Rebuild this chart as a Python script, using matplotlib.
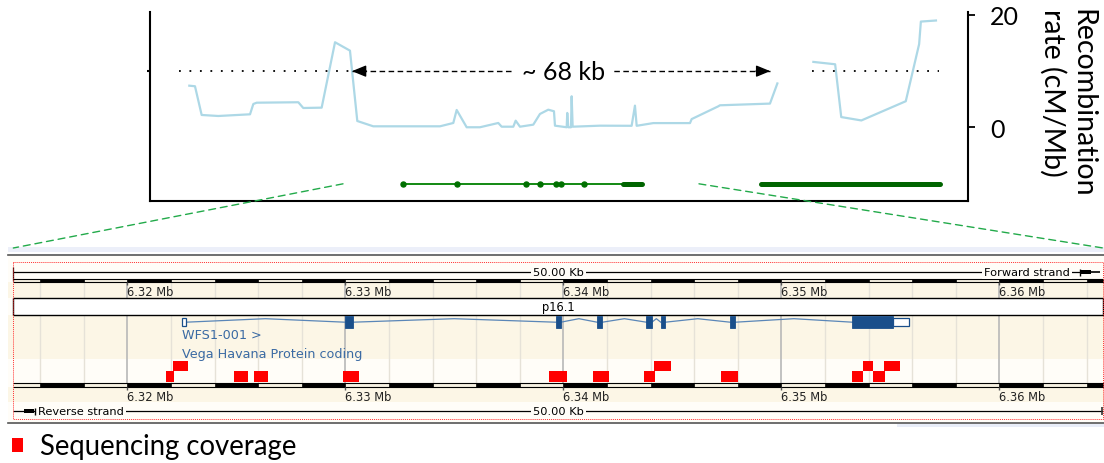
import matplotlib
matplotlib.use("Agg")
import matplotlib.pyplot as plt
from matplotlib.patches import Rectangle, Patch, ConnectionPatch
import numpy as np

# ---------------- data ----------------
# Recombination rate (cM/Mb) along chr4 (position in Mb); two segments with a gap
recomb_pos_a = [6.29290, 6.29369, 6.29462, 6.29694, 6.30135, 6.30181, 6.30228, 6.30807,
                6.30876, 6.31132, 6.31318, 6.31526, 6.31628, 6.31850, 6.32779, 6.32964,
                6.33011, 6.33150, 6.33335, 6.33590, 6.33637, 6.33799, 6.33832, 6.33892,
                6.34077, 6.34170, 6.34286, 6.34365, 6.34379, 6.34542, 6.34550, 6.34564,
                6.34602, 6.34611, 6.34625, 6.35005, 6.35446, 6.35492, 6.35516, 6.35747,
                6.36258, 6.36281, 6.36652, 6.36675, 6.37371, 6.37474]
recomb_rate_a = [7.42, 7.32, 2.22, 2.04, 2.34, 4.17, 4.40, 4.48,
                 3.46, 3.52, 15.13, 13.64, 1.15, 0.21, 0.21, 0.80,
                 3.11, 0.04, 0.04, 0.80, 0.14, 0.14, 1.21, 0.14,
                 0.50, 2.40, 3.16, 2.88, 0.32, 0.04, 2.58, 0.04,
                 0.04, 5.54, 0.14, 0.32, 0.30, 3.88, 0.30, 0.78,
                 0.78, 1.49, 3.76, 3.94, 4.24, 7.82]
recomb_pos_b = [6.37975, 6.38278, 6.38363, 6.38643, 6.39261, 6.39447, 6.39471, 6.39681]
recomb_rate_b = [11.64, 11.22, 1.85, 1.25, 4.66, 14.80, 18.80, 18.99]

# Hotspot reference level and extents (Mb)
hotspot_level = 10
hotspot_left = [6.29147, 6.31554]
hotspot_right = [6.37955, 6.39723]
distance_label = "~ 68 kb"

# WFS1-001 transcript exons (Mb)
exon_start = [6.32250, 6.32999, 6.33965, 6.34155, 6.34381, 6.34447, 6.34765, 6.35326]
exon_end = [6.32268, 6.33034, 6.33988, 6.34179, 6.34406, 6.34468, 6.34789, 6.35587]
utr5 = [6.32250, 6.32268]
utr3 = [6.35514, 6.35587]
neighbour_gene = [6.37246, 6.39737]

# Sequencing coverage blocks (Mb) and stacking row
cov_start = [6.32176, 6.32210, 6.32491, 6.32581, 6.32988, 6.33934, 6.34135,
             6.34370, 6.34416, 6.34725, 6.35323, 6.35375, 6.35421, 6.35471]
cov_end = [6.32214, 6.32277, 6.32552, 6.32644, 6.33063, 6.34016, 6.34208,
           6.34421, 6.34494, 6.34803, 6.35376, 6.35421, 6.35474, 6.35543]
cov_row = [0, 1, 0, 0, 0, 0, 0, 0, 1, 0, 0, 1, 0, 1]

# Browser view (Mb)
window = [6.31477, 6.36476]
view = [6.31454, 6.36480]
zoom_from = [6.31429, 6.36383]
scale_ticks = [6.32, 6.33, 6.34, 6.35, 6.36]
scale_labels = ["6.32 Mb", "6.33 Mb", "6.34 Mb", "6.35 Mb", "6.36 Mb"]
top_xlim = [6.28743, 6.40127]
rate_ticks = [0, 20]

# ---------------- layout ----------------
W, H = 1104, 464
def fx(px): return px / W
def fy(py): return 1 - py / H

plt.rcParams['font.family'] = ['DejaVu Sans']
TOPFONT = ['Lato', 'DejaVu Sans']

fig = plt.figure(figsize=(W / 100, H / 100), dpi=100)

# ---------- top panel: recombination rate ----------
ax = fig.add_axes([fx(150), fy(202), (968 - 150) / W, (202 - 13) / H])
ax.set_xlim(*top_xlim)
ax.set_ylim(-13.05, 20.5)
RC = '#add8e6'
ax.plot(recomb_pos_a, recomb_rate_a, color=RC, lw=1.6)
ax.plot(recomb_pos_b, recomb_rate_b, color=RC, lw=1.6)

# hotspot reference lines and distance arrow
ax.plot(hotspot_left, [hotspot_level] * 2, color='black', lw=1.3, ls=(0, (1, 4.8)))
ax.plot(hotspot_right, [hotspot_level] * 2, color='black', lw=1.3, ls=(0, (1, 4.8)))
a0, a1 = hotspot_left[1], hotspot_right[0] - 0.0058
ax.plot([a0, a1], [hotspot_level] * 2, color='black', lw=1.0, ls=(0, (4, 2.5)))
for tip, tail in ((a0, a0 + 0.002), (a1, a1 - 0.002)):
    ax.annotate('', xy=(tip, hotspot_level), xytext=(tail, hotspot_level),
                arrowprops=dict(arrowstyle='-|>,head_length=0.85,head_width=0.35',
                                color='black', lw=1.0, shrinkA=0, shrinkB=0))
ax.text((a0 + a1) / 2 + 0.0003, hotspot_level, distance_label, ha='center', va='center',
        fontsize=18, family=TOPFONT,
        bbox=dict(facecolor='white', edgecolor='none', pad=5))

# gene models
GENE_Y = -10
ax.plot([exon_start[0], exon_end[-1]], [GENE_Y] * 2, color='#008000', lw=1.3)
mids = [(s + e) / 2 for s, e in zip(exon_start[:-1], exon_end[:-1])]
ax.plot(mids, [GENE_Y] * len(mids), 'o', color='#007000', ms=3.6)
ax.plot([exon_start[-1], exon_end[-1]], [GENE_Y] * 2, color='#006400', lw=3.6,
        solid_capstyle='round')
ax.plot(neighbour_gene, [GENE_Y] * 2, color='#006400', lw=3.6, solid_capstyle='round')

for s in ('top', 'right'):
    ax.spines[s].set_visible(False)
for s in ('left', 'bottom'):
    ax.spines[s].set_linewidth(1.5)
ax.set_xticks([])
ax.set_yticks([hotspot_level])
ax.tick_params(axis='y', length=2.5, width=1.5, labelleft=False)

sec = ax.secondary_yaxis('right')
sec.spines['right'].set_linewidth(1.5)
sec.set_yticks(rate_ticks)
sec.tick_params(length=5, width=1.3, pad=11, labelsize=18)
for lab in sec.get_yticklabels():
    lab.set_family(TOPFONT)
fig.text(fx(1067), fy(9), "Recombination\nrate (cM/Mb)", rotation=270,
         ha='center', va='top', multialignment='left', fontsize=20.5,
         family=TOPFONT, linespacing=1.15)

# ---------- bottom panel: genome browser view ----------
axb = fig.add_axes([fx(8.3), fy(424.3), (W - 8.3) / W, (424.3 - 255.7) / H])
axb.set_xlim(*view)
axb.set_ylim(424.3, 255.7)
axb.set_xticks([])
axb.set_yticks([])
for s in ('left', 'right'):
    axb.spines[s].set_visible(False)
for s in ('top', 'bottom'):
    axb.spines[s].set_color('#555555')
    axb.spines[s].set_linewidth(1.2)

CREAM, LIGHT = '#fcf6e6', '#fffdf8'
axb.set_facecolor(LIGHT)
for y0, y1, c in ((255.7, 279.5, LIGHT), (283, 299.3, CREAM), (316, 360, CREAM),
                  (360, 384.3, LIGHT), (387.7, 403.5, CREAM), (403.5, 424.3, LIGHT)):
    axb.axhspan(y0, y1, color=c, lw=0, zorder=0)

# grid lines every 2 kb
grid = np.arange(6.316, window[1], 0.002)
for g in grid:
    major = abs(g * 100 - round(g * 100)) < 1e-6
    axb.vlines(g, 283, 384.3, color='#b8b8b8' if major else '#e6e2d8',
               lw=1.2 if major else 1.0, zorder=1)

# scale bars
blocks = np.arange(6.314, window[1] + 0.002, 0.002)
for (y0, y1) in ((279.5, 283), (384.3, 387.7)):
    axb.add_patch(Rectangle((window[0], y0), window[1] - window[0], y1 - y0,
                            fc='#f6f1e2', ec='none', zorder=2))
    axb.hlines([y0, y1], window[0], window[1], color='black', lw=0.8, zorder=3)
    for i, b in enumerate(blocks):
        if i % 2 == 1:
            lo, hi = max(b, window[0]), min(b + 0.002, window[1])
            if hi > lo:
                axb.add_patch(Rectangle((lo, y0), hi - lo, y1 - y0, fc='black',
                                        ec='black', lw=0.5, zorder=3))
    axb.vlines(scale_ticks, y1, y1 + 3, color='#555555', lw=1.0, zorder=3)
    for t, l in zip(scale_ticks, scale_labels):
        axb.text(t, y1 + 10, l, ha='left', va='center', fontsize=8.3,
                 color='#222222', zorder=4)

# red dotted selection box
axb.add_patch(Rectangle((window[0], 263.3), window[1] - window[0], 420 - 263.3,
                        fill=False, ec='#ff3030', ls=(0, (1, 1)), lw=0.7, zorder=5))

# strand lines
mid = (window[0] + window[1]) / 2
FWD, REV = 273, 412.3
axb.hlines(FWD, window[0], 6.36370, color='black', lw=0.9, zorder=3)
axb.vlines(window[0], 268, 282, color='black', lw=0.9, zorder=3)
axb.text(mid, FWD, "50.00 Kb", ha='center', va='center', fontsize=8.2, zorder=4,
         bbox=dict(fc=LIGHT, ec='none', pad=1.5))
axb.text(6.36325, FWD, "Forward strand", ha='right', va='center', fontsize=8.2,
         zorder=4, bbox=dict(fc=LIGHT, ec='none', pad=1.5))
axb.vlines(6.36370, FWD - 3.5, FWD + 3.5, color='black', lw=1.0, zorder=4)
axb.add_patch(Rectangle((6.36375, FWD - 2.2), 0.00045, 4.4, fc='black', ec='none', zorder=4))
axb.hlines(FWD, 6.36420, 6.36462, color='black', lw=1.2, zorder=4)

axb.hlines(REV, window[0], window[1], color='black', lw=0.9, zorder=3)
axb.vlines(window[1] - 0.00003, REV - 4, REV + 4, color='#333333', lw=1.2, zorder=3)
axb.text(mid, REV, "50.00 Kb", ha='center', va='center', fontsize=8.2, zorder=4,
         bbox=dict(fc=LIGHT, ec='none', pad=1.5))
axb.text(6.31591, REV, "Reverse strand", ha='left', va='center', fontsize=8.2,
         zorder=4, bbox=dict(fc=LIGHT, ec='none', pad=1.5))
axb.vlines(6.31578, REV - 3.5, REV + 3.5, color='black', lw=1.0, zorder=4)
axb.add_patch(Rectangle((6.31528, REV - 2.2), 0.00045, 4.4, fc='black', ec='none', zorder=4))

# chromosome band
axb.add_patch(Rectangle((window[0], 299.3), window[1] - window[0], 16.4, fc='white',
                        ec='black', lw=1.0, zorder=4))
axb.text(mid, 307.8, "p16.1", ha='center', va='center', fontsize=8.3, zorder=5)

# transcript
TX = 323.2
EXC, INC, LABC = '#1a4f8b', '#5a86b8', '#3a6aa3'
for i in range(len(exon_start) - 1):
    e, s = exon_end[i], exon_start[i + 1]
    axb.plot([e, (e + s) / 2, s], [TX, TX - 3.5, TX], color=INC, lw=0.9, zorder=3)
for s, e in zip(exon_start[1:], exon_end[1:]):
    hi = min(e, utr3[0])
    axb.add_patch(Rectangle((s, TX - 5.8), hi - s, 11.6, fc=EXC, ec=EXC, lw=0.6, zorder=4))
for u in (utr5, utr3):
    axb.add_patch(Rectangle((u[0], TX - 4), u[1] - u[0], 8, fc='white', ec=EXC,
                            lw=0.9, zorder=4))
axb.text(exon_start[0], 336, "WFS1-001 >", ha='left', va='center', fontsize=9.2,
         color=LABC, zorder=4)
axb.text(exon_start[0], 354.3, "Vega Havana Protein coding", ha='left', va='center',
         fontsize=9.2, color=LABC, zorder=4)

# sequencing coverage
ROW_Y = {0: 372.0, 1: 361.5}
for s, e, r in zip(cov_start, cov_end, cov_row):
    axb.add_patch(Rectangle((s, ROW_Y[r]), e - s, 10.6, fc='#ff0000', ec='none', zorder=4))

# decorative light bands of screenshot
fig.patches.append(Rectangle((fx(8), fy(253)), 1 - fx(8), 5 / H, transform=fig.transFigure,
                             fc='#eceff9', ec='none', zorder=0))
fig.patches.append(Rectangle((fx(897), fy(428)), 1 - fx(897), 3.5 / H,
                             transform=fig.transFigure, fc='#e9edf8', ec='none', zorder=0))

# zoom connectors
for xa, xb in zip(zoom_from, window):
    cp = ConnectionPatch(xyA=(xa, GENE_Y), coordsA=ax.transData,
                         xyB=(xb, 249), coordsB=axb.transData,
                         color='#22aa4a', lw=1.0, ls=(0, (5, 3.5)))
    fig.add_artist(cp)

# legend
fig.legend(handles=[Patch(facecolor='#ff0000', edgecolor='none', label='Sequencing coverage')],
           loc='center left', bbox_to_anchor=(fx(11.5), fy(447.5)), frameon=False,
           borderpad=0, borderaxespad=0, handlelength=0.4, handleheight=0.4,
           handletextpad=0.62, prop={'family': TOPFONT, 'size': 19.8})

fig.savefig('out.png', dpi=100)
